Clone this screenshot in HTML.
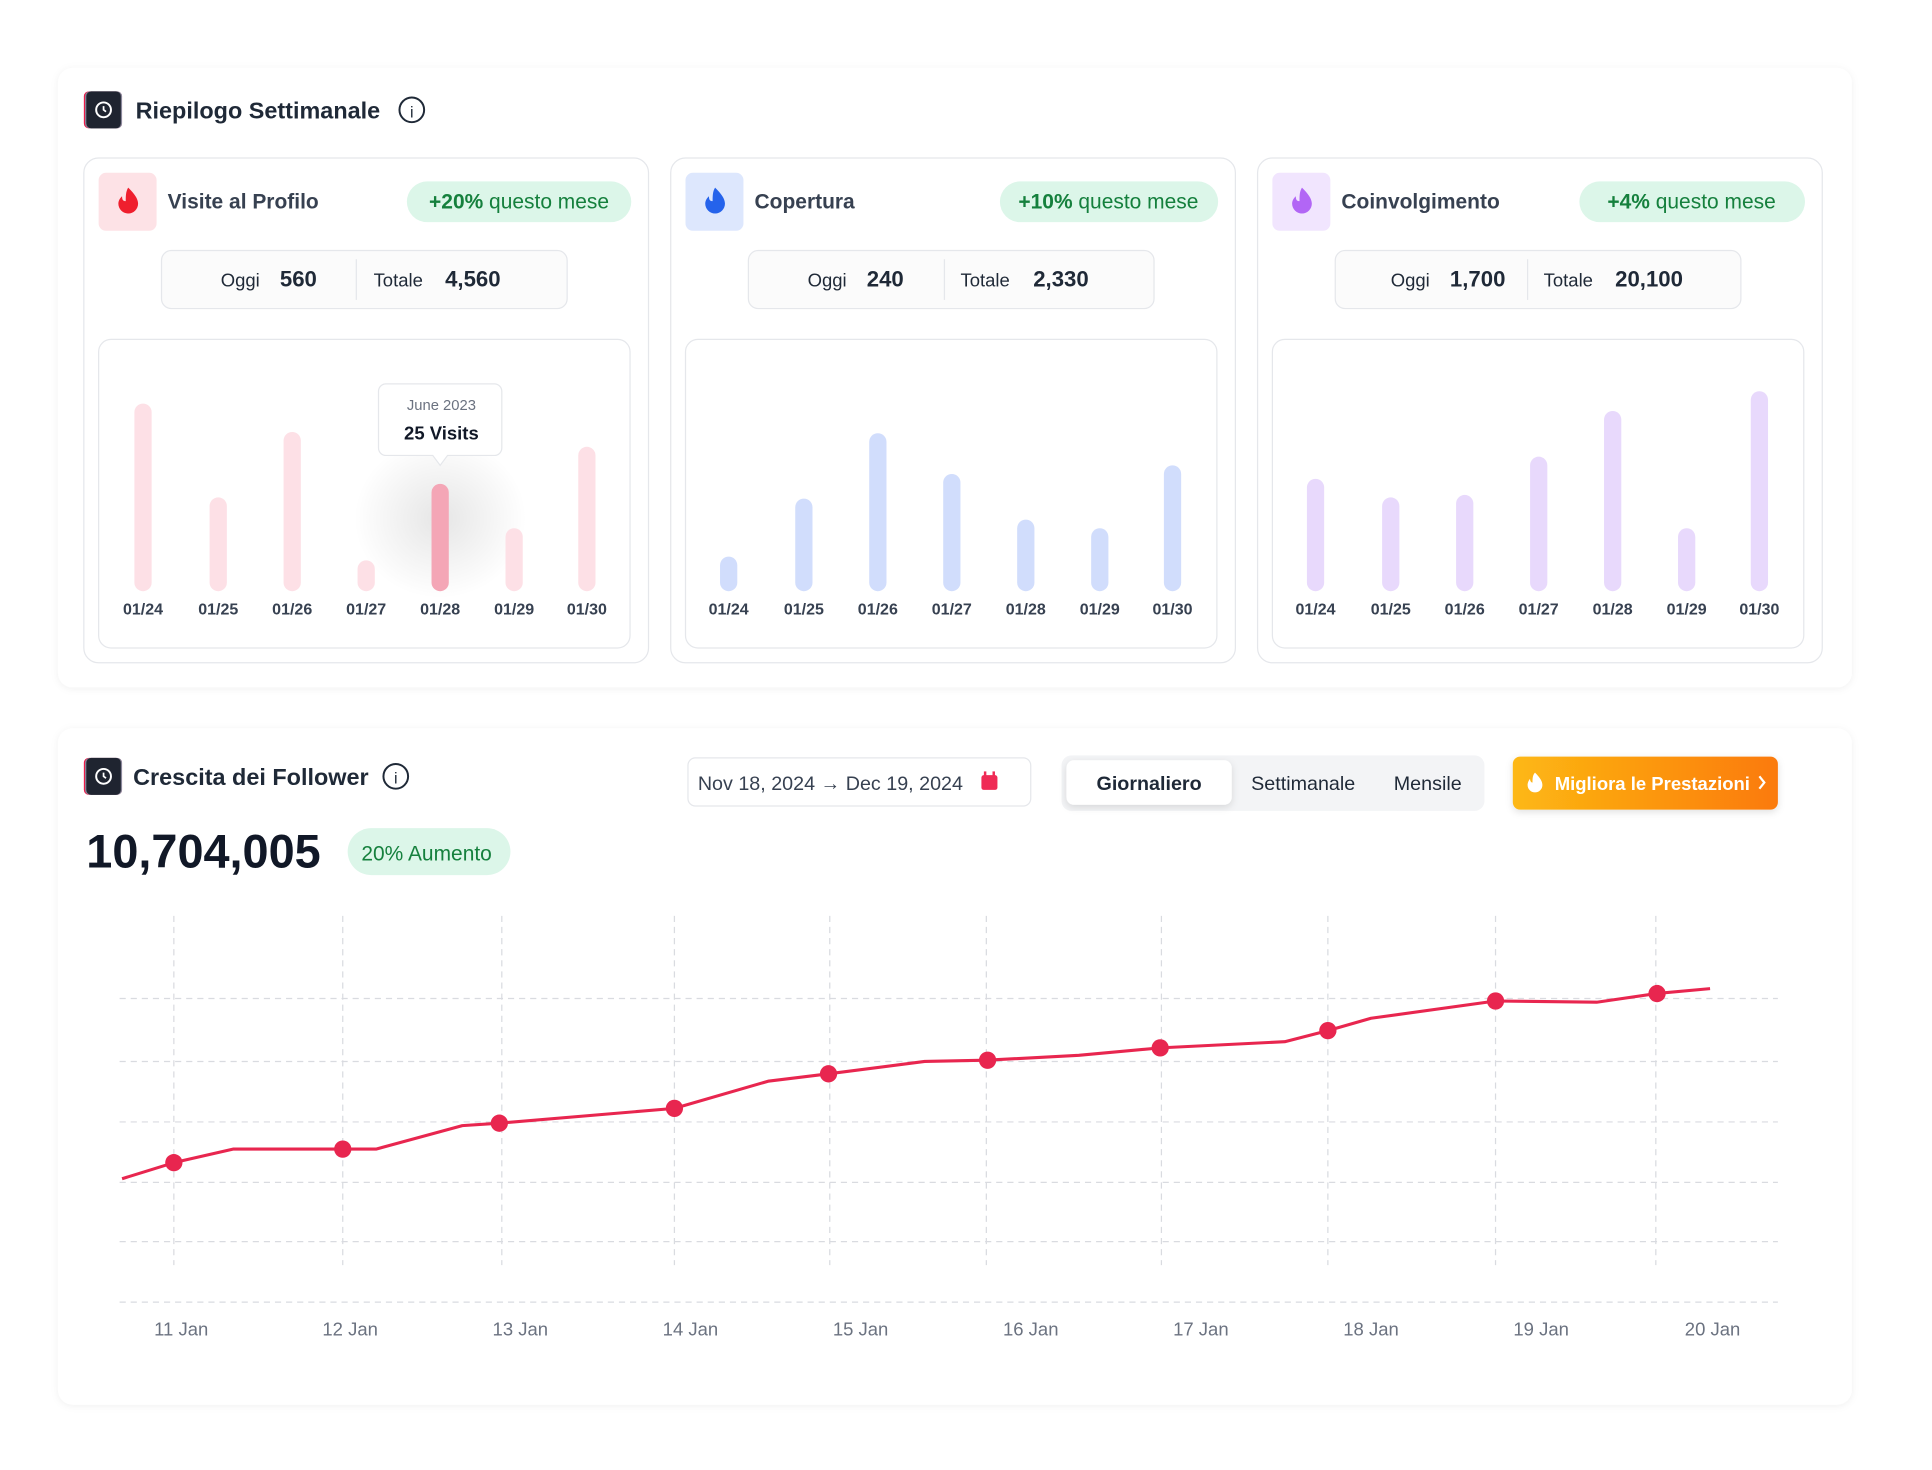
<!DOCTYPE html>
<html><head><meta charset="utf-8"><style>
html,body{margin:0;padding:0;background:#fff}
svg{display:block}
text{font-family:"Liberation Sans",sans-serif}
</style></head><body>
<svg width="1932" height="1470" viewBox="0 0 1567 1191" preserveAspectRatio="none" xmlns="http://www.w3.org/2000/svg">
<defs>
<filter id="sh" x="-5%" y="-5%" width="110%" height="110%"><feDropShadow dx="0" dy="1" stdDeviation="3" flood-color="#000" flood-opacity="0.06"/></filter>
<filter id="sh2" x="-20%" y="-20%" width="140%" height="160%"><feDropShadow dx="0" dy="2" stdDeviation="3" flood-color="#000" flood-opacity="0.12"/></filter>
<radialGradient id="glow"><stop offset="0" stop-color="#000" stop-opacity="0.10"/><stop offset="1" stop-color="#000" stop-opacity="0"/></radialGradient>
<linearGradient id="btn" x1="0" x2="1"><stop offset="0" stop-color="#fdb813"/><stop offset="1" stop-color="#fb7a0b"/></linearGradient>
</defs>
<rect x="47" y="55" width="1455" height="502" rx="12" fill="#fff" filter="url(#sh)"/>
<rect x="47" y="590" width="1455" height="548" rx="12" fill="#fff" filter="url(#sh)"/>

<rect x="68" y="74" width="31" height="30" rx="4" fill="#ec1c4a"/><rect x="69" y="74" width="30" height="30" rx="4" fill="#25f4ee" opacity=".5"/><rect x="70" y="74" width="28" height="30" rx="4" fill="#1f2430"/>
<circle cx="84" cy="89" r="6" fill="none" stroke="#fff" stroke-width="1.6"/><path d="M84 86v3l2 1.5" stroke="#fff" stroke-width="1.4" fill="none"/>
<text x="110" y="96" font-size="19" font-weight="700" fill="#1f2937">Riepilogo Settimanale</text>
<circle cx="334" cy="89" r="10" fill="none" stroke="#1f2937" stroke-width="1.6"/><text x="334" y="95" font-size="13" text-anchor="middle" fill="#1f2937">i</text>

<g stroke="#e5e7eb" fill="#fff">
<rect x="68" y="128" width="458" height="409" rx="12"/><rect x="544" y="128" width="458" height="409" rx="12"/><rect x="1020" y="128" width="458" height="409" rx="12"/>
<rect x="80" y="275" width="431" height="250" rx="10"/><rect x="556" y="275" width="431" height="250" rx="10"/><rect x="1032" y="275" width="431" height="250" rx="10"/>
<rect x="131" y="203" width="329" height="47" rx="8" fill="#fbfbfb"/><rect x="607" y="203" width="329" height="47" rx="8" fill="#fbfbfb"/><rect x="1083" y="203" width="329" height="47" rx="8" fill="#fbfbfb"/>
</g>
<rect x="80" y="140" width="47" height="47" rx="6" fill="#fde2e6"/>
<rect x="556" y="140" width="47" height="47" rx="6" fill="#dde7fd"/>
<rect x="1032" y="140" width="47" height="47" rx="6" fill="#f1e5fe"/>
<path d="M104 152c5 5 8 9 8 13a8 8 0 0 1-16 0c0-3 2-5 3-6c0 3 1 4 3 4c0-4 0-8 2-11z" fill="#ef1f2e"/>
<path d="M580 152c5 5 8 9 8 13a8 8 0 0 1-16 0c0-3 2-5 3-6c0 3 1 4 3 4c0-4 0-8 2-11z" fill="#2563eb"/>
<path d="M1056 152c5 5 8 9 8 13a8 8 0 0 1-16 0c0-3 2-5 3-6c0 3 1 4 3 4c0-4 0-8 2-11z" fill="#b266f5"/>
<g font-size="17" font-weight="700" fill="#374151">
<text x="136" y="169">Visite al Profilo</text><text x="612" y="169">Copertura</text><text x="1088" y="169">Coinvolgimento</text></g>
<rect x="330" y="147" width="182" height="33" rx="16.5" fill="#dcf6e9"/>
<rect x="811" y="147" width="177" height="33" rx="16.5" fill="#dcf6e9"/>
<rect x="1281" y="147" width="183" height="33" rx="16.5" fill="#dcf6e9"/>
<g font-size="17" fill="#15803d" text-anchor="middle">
<text x="421" y="169"><tspan font-weight="700">+20%</tspan> questo mese</text>
<text x="899" y="169"><tspan font-weight="700">+10%</tspan> questo mese</text>
<text x="1372" y="169"><tspan font-weight="700">+4%</tspan> questo mese</text></g>
<g fill="#1f2937">
<text x="179" y="232" font-size="15">Oggi</text><text x="227" y="232" font-size="18" font-weight="700">560</text><text x="303" y="232" font-size="15">Totale</text><text x="361" y="232" font-size="18" font-weight="700">4,560</text>
<text x="655" y="232" font-size="15">Oggi</text><text x="703" y="232" font-size="18" font-weight="700">240</text><text x="779" y="232" font-size="15">Totale</text><text x="838" y="232" font-size="18" font-weight="700">2,330</text>
<text x="1128" y="232" font-size="15">Oggi</text><text x="1176" y="232" font-size="18" font-weight="700">1,700</text><text x="1252" y="232" font-size="15">Totale</text><text x="1310" y="232" font-size="18" font-weight="700">20,100</text>
</g>
<g stroke="#e5e7eb"><line x1="289" y1="210" x2="289" y2="243"/><line x1="766" y1="210" x2="766" y2="243"/><line x1="1239" y1="210" x2="1239" y2="243"/></g>

<ellipse cx="357" cy="420" rx="70" ry="65" fill="url(#glow)"/>
<g stroke-width="14" stroke-linecap="round">
<g stroke="#fde0e6"><line x1="116" y1="334" x2="116" y2="472"/><line x1="177" y1="410" x2="177" y2="472"/><line x1="237" y1="357" x2="237" y2="472"/><line x1="297" y1="461" x2="297" y2="472"/><line x1="417" y1="435" x2="417" y2="472"/><line x1="476" y1="369" x2="476" y2="472"/></g>
<line x1="357" y1="399" x2="357" y2="472" stroke="#f4a6b6"/>
<g stroke="#d1ddfc"><line x1="591" y1="458" x2="591" y2="472"/><line x1="652" y1="411" x2="652" y2="472"/><line x1="712" y1="358" x2="712" y2="472"/><line x1="772" y1="391" x2="772" y2="472"/><line x1="832" y1="428" x2="832" y2="472"/><line x1="892" y1="435" x2="892" y2="472"/><line x1="951" y1="384" x2="951" y2="472"/></g>
<g stroke="#e8d9fc"><line x1="1067" y1="395" x2="1067" y2="472"/><line x1="1128" y1="410" x2="1128" y2="472"/><line x1="1188" y1="408" x2="1188" y2="472"/><line x1="1248" y1="377" x2="1248" y2="472"/><line x1="1308" y1="340" x2="1308" y2="472"/><line x1="1368" y1="435" x2="1368" y2="472"/><line x1="1427" y1="324" x2="1427" y2="472"/></g>
</g>
<g font-size="13" font-weight="700" fill="#374151" text-anchor="middle">
<text x="116" y="498">01/24</text><text x="177" y="498">01/25</text><text x="237" y="498">01/26</text><text x="297" y="498">01/27</text><text x="357" y="498">01/28</text><text x="417" y="498">01/29</text><text x="476" y="498">01/30</text>
<text x="591" y="498">01/24</text><text x="652" y="498">01/25</text><text x="712" y="498">01/26</text><text x="772" y="498">01/27</text><text x="832" y="498">01/28</text><text x="892" y="498">01/29</text><text x="951" y="498">01/30</text>
<text x="1067" y="498">01/24</text><text x="1128" y="498">01/25</text><text x="1188" y="498">01/26</text><text x="1248" y="498">01/27</text><text x="1308" y="498">01/28</text><text x="1368" y="498">01/29</text><text x="1427" y="498">01/30</text>
</g>
<path d="M313 311h88a6 6 0 0 1 6 6v46a6 6 0 0 1-6 6h-38l-6 8l-6-8h-38a6 6 0 0 1-6-6v-46a6 6 0 0 1 6-6z" fill="#fff" stroke="#e5e7eb"/>
<text x="358" y="332" font-size="12" fill="#6b7280" text-anchor="middle">June 2023</text>
<text x="358" y="356" font-size="15" font-weight="700" fill="#111827" text-anchor="middle">25 Visits</text>

<rect x="68" y="614" width="31" height="30" rx="4" fill="#ec1c4a"/><rect x="69" y="614" width="30" height="30" rx="4" fill="#25f4ee" opacity=".5"/><rect x="70" y="614" width="28" height="30" rx="4" fill="#1f2430"/>
<circle cx="84" cy="629" r="6" fill="none" stroke="#fff" stroke-width="1.6"/><path d="M84 626v3l2 1.5" stroke="#fff" stroke-width="1.4" fill="none"/>
<text x="108" y="636" font-size="19" font-weight="700" fill="#1f2937">Crescita dei Follower</text>
<circle cx="321" cy="629" r="10" fill="none" stroke="#1f2937" stroke-width="1.6"/><text x="321" y="635" font-size="13" text-anchor="middle" fill="#1f2937">i</text>

<rect x="558" y="614" width="278" height="39" rx="6" fill="#fff" stroke="#e5e7eb"/>
<text x="566" y="640" font-size="16" fill="#374151">Nov 18, 2024 → Dec 19, 2024</text>
<rect x="796" y="628" width="13" height="12" rx="2" fill="#ef2b55"/><rect x="798" y="625" width="2" height="4" fill="#ef2b55"/><rect x="805" y="625" width="2" height="4" fill="#ef2b55"/>
<rect x="861" y="612" width="343" height="45" rx="8" fill="#f3f4f6"/>
<rect x="865" y="616" width="134" height="36" rx="6" fill="#fff" filter="url(#sh2)"/>
<g font-size="16" text-anchor="middle" fill="#1f2937">
<text x="932" y="640" font-weight="700">Giornaliero</text><text x="1057" y="640">Settimanale</text><text x="1158" y="640">Mensile</text></g>
<rect x="1227" y="613" width="215" height="43" rx="6" fill="url(#btn)" filter="url(#sh2)"/>
<path d="M1245 626c4 4 6 7 6 10a6 6 0 0 1-12 0c0-2 1-4 2-5c0 2 1 3 2 3c0-3 0-6 2-8z" fill="#fff"/>
<text x="1261" y="640" font-size="15" font-weight="700" fill="#fff">Migliora le Prestazioni</text>
<path d="M1427 629l4 5l-4 5" stroke="#fff" stroke-width="1.8" fill="none"/>

<text x="70" y="703" font-size="38" font-weight="700" fill="#111827">10,704,005</text>
<rect x="282" y="671" width="132" height="38" rx="19" fill="#dcf6e9"/>
<text x="346" y="697" font-size="17" fill="#15803d" text-anchor="middle">20% Aumento</text>

<g stroke="#d9dbe0" stroke-width="1" stroke-dasharray="5 4">
<line x1="97" y1="809" x2="1442" y2="809"/><line x1="97" y1="860" x2="1442" y2="860"/><line x1="97" y1="909" x2="1442" y2="909"/><line x1="97" y1="958" x2="1442" y2="958"/><line x1="97" y1="1006" x2="1442" y2="1006"/><line x1="97" y1="1055" x2="1442" y2="1055"/>
<line x1="141" y1="742" x2="141" y2="1025"/><line x1="278" y1="742" x2="278" y2="1025"/><line x1="407" y1="742" x2="407" y2="1025"/><line x1="547" y1="742" x2="547" y2="1025"/><line x1="673" y1="742" x2="673" y2="1025"/><line x1="800" y1="742" x2="800" y2="1025"/><line x1="942" y1="742" x2="942" y2="1025"/><line x1="1077" y1="742" x2="1077" y2="1025"/><line x1="1213" y1="742" x2="1213" y2="1025"/><line x1="1343" y1="742" x2="1343" y2="1025"/>
</g>
<polyline fill="none" stroke="#e8264f" stroke-width="2.5" stroke-linejoin="round" points="99,955 141,942 189,931 278,931 305,931 375,912 405,910 547,898 623,876 672,870 750,860 800,859 875,855 941,849 1042,844 1077,835 1112,825 1213,811 1295,812 1343,805 1387,801"/>
<g fill="#e8264f">
<circle cx="141" cy="942" r="7"/><circle cx="278" cy="931" r="7"/><circle cx="405" cy="910" r="7"/><circle cx="547" cy="898" r="7"/><circle cx="672" cy="870" r="7"/><circle cx="801" cy="859" r="7"/><circle cx="941" cy="849" r="7"/><circle cx="1077" cy="835" r="7"/><circle cx="1213" cy="811" r="7"/><circle cx="1344" cy="805" r="7"/></g>
<g font-size="15" fill="#6b7280" text-anchor="middle">
<text x="147" y="1082">11 Jan</text><text x="284" y="1082">12 Jan</text><text x="422" y="1082">13 Jan</text><text x="560" y="1082">14 Jan</text><text x="698" y="1082">15 Jan</text><text x="836" y="1082">16 Jan</text><text x="974" y="1082">17 Jan</text><text x="1112" y="1082">18 Jan</text><text x="1250" y="1082">19 Jan</text><text x="1389" y="1082">20 Jan</text></g>
</svg>
</body></html>
